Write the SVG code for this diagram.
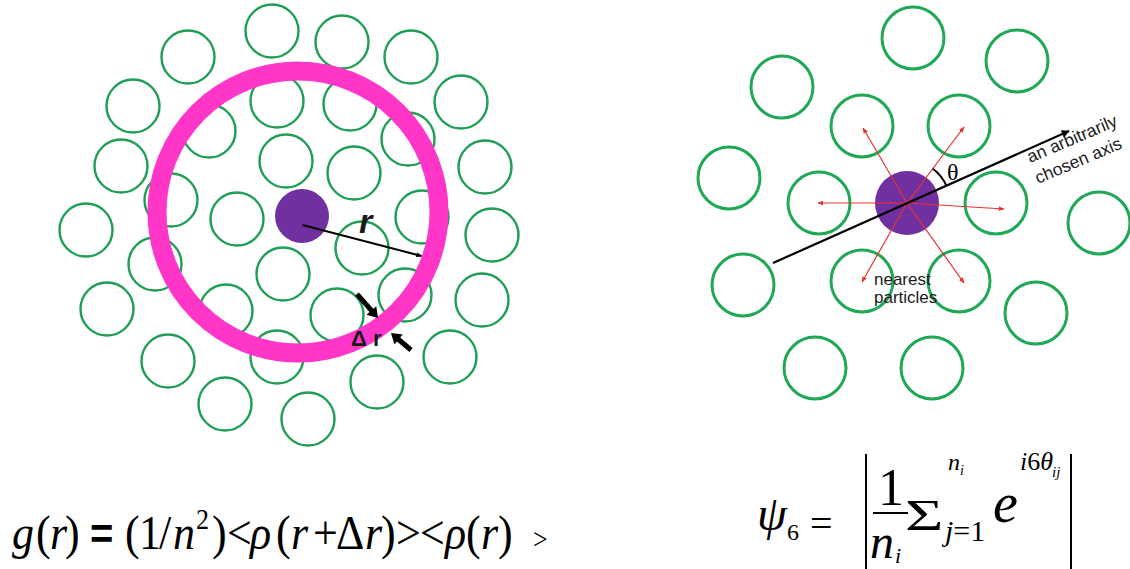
<svg xmlns="http://www.w3.org/2000/svg" width="1130" height="569" viewBox="0 0 1130 569">
<style>
.pL{fill:none;stroke:#1f9e55;stroke-width:2.4}
.pR{fill:none;stroke:#1fa855;stroke-width:3}
.ctr{fill:#7030a0}
.ring{fill:none;stroke:#ff36c8;stroke-width:19}
.red{stroke:#e8312f;stroke-width:1.2;fill:none}
.serif{font-family:"Liberation Serif","Times New Roman",serif;fill:#000}
.sans{font-family:"Liberation Sans",Arial,sans-serif;fill:#1a1a1a}
.it{font-style:italic}
</style>
<defs>
<marker id="mBlk" viewBox="0 0 10 10" refX="9" refY="5" markerWidth="6" markerHeight="6" markerUnits="userSpaceOnUse" orient="auto"><path d="M0,1 L10,5 L0,9 z" fill="#000"/></marker>
<marker id="mAx" viewBox="0 0 10 10" refX="9" refY="5" markerWidth="10" markerHeight="8" markerUnits="userSpaceOnUse" orient="auto"><path d="M0,0 L10,5 L0,10 z" fill="#000"/></marker>
<marker id="mRed" viewBox="0 0 10 10" refX="9" refY="5" markerWidth="6" markerHeight="6" markerUnits="userSpaceOnUse" orient="auto"><path d="M0,1 L10,5 L0,9 z" fill="#e8312f"/></marker>
</defs>
<rect width="1130" height="569" fill="#fff"/>

<g id="left-particles">
<circle class="pL" cx="272" cy="31" r="26.5"/>
<circle class="pL" cx="342" cy="42" r="26.5"/>
<circle class="pL" cx="411" cy="57" r="26.5"/>
<circle class="pL" cx="188" cy="57" r="26.5"/>
<circle class="pL" cx="133" cy="106" r="26.5"/>
<circle class="pL" cx="461" cy="102" r="26.5"/>
<circle class="pL" cx="209" cy="131" r="26.5"/>
<circle class="pL" cx="277" cy="101" r="26.5"/>
<circle class="pL" cx="350" cy="104" r="26.5"/>
<circle class="pL" cx="408" cy="139" r="26.5"/>
<circle class="pL" cx="121" cy="166" r="26.5"/>
<circle class="pL" cx="485" cy="167" r="26.5"/>
<circle class="pL" cx="286" cy="161" r="26.5"/>
<circle class="pL" cx="354" cy="173" r="26.5"/>
<circle class="pL" cx="171" cy="200" r="26.5"/>
<circle class="pL" cx="237" cy="219" r="26.5"/>
<circle class="pL" cx="86" cy="230" r="26.5"/>
<circle class="pL" cx="422" cy="217" r="26.5"/>
<circle class="pL" cx="492" cy="235" r="26.5"/>
<circle class="pL" cx="362" cy="248" r="26.5"/>
<circle class="pL" cx="155" cy="264" r="26.5"/>
<circle class="pL" cx="283" cy="274" r="26.5"/>
<circle class="pL" cx="107" cy="309" r="26.5"/>
<circle class="pL" cx="226" cy="311" r="26.5"/>
<circle class="pL" cx="337" cy="315" r="26.5"/>
<circle class="pL" cx="405" cy="295" r="26.5"/>
<circle class="pL" cx="482" cy="300" r="26.5"/>
<circle class="pL" cx="168" cy="361" r="26.5"/>
<circle class="pL" cx="277" cy="357" r="26.5"/>
<circle class="pL" cx="450" cy="357" r="26.5"/>
<circle class="pL" cx="377" cy="382" r="26.5"/>
<circle class="pL" cx="225" cy="404" r="26.5"/>
<circle class="pL" cx="308" cy="419" r="26.5"/>
</g>
<g id="shell">
<circle class="ring" cx="298" cy="212" r="141"/>
</g>
<g id="left-center">
<circle class="ctr" cx="302" cy="216" r="27"/>
</g>
<g id="left-annotations">
<line x1="302.5" y1="225" x2="421.5" y2="256" stroke="#000" stroke-width="2" marker-end="url(#mBlk)"/>
<text class="sans it" x="359" y="233" font-size="34" font-weight="bold" fill="#000">r</text>
<path d="M355.1,295.6 L358.9,292.4 L373.3,308.8 L376.3,306.2 L378,318 L366.5,314.8 L369.5,312.1 z" fill="#000"/>
<path d="M412.6,348.1 L400.2,337.6 L402.8,334.5 L391,333 L394.4,344.5 L397,341.4 L409.4,351.9 z" fill="#000"/>
<text class="sans" x="351" y="346" font-size="22" font-weight="bold" fill="#000">Δ r</text>
</g>

<g id="right-particles">
<circle class="pR" cx="913" cy="38" r="31"/>
<circle class="pR" cx="1017" cy="61" r="31"/>
<circle class="pR" cx="782" cy="87" r="31"/>
<circle class="pR" cx="862" cy="126" r="31"/>
<circle class="pR" cx="959" cy="126" r="31"/>
<circle class="pR" cx="729" cy="178" r="31"/>
<circle class="pR" cx="819" cy="203" r="31"/>
<circle class="pR" cx="996" cy="203" r="31"/>
<circle class="pR" cx="1099" cy="223" r="31"/>
<circle class="pR" cx="743" cy="285" r="31"/>
<circle class="pR" cx="862" cy="281" r="31"/>
<circle class="pR" cx="959" cy="281" r="31"/>
<circle class="pR" cx="1036" cy="313" r="31"/>
<circle class="pR" cx="815" cy="368" r="31"/>
<circle class="pR" cx="932" cy="368" r="31"/>
</g>
<g id="right-center">
<circle class="ctr" cx="907" cy="203" r="32"/>
</g>
<g id="connectors">
<line class="red" x1="907" y1="203" x2="863" y2="128" marker-end="url(#mRed)"/>
<line class="red" x1="907" y1="203" x2="964" y2="127" marker-end="url(#mRed)"/>
<line class="red" x1="907" y1="203" x2="818" y2="203" marker-end="url(#mRed)"/>
<line class="red" x1="907" y1="203" x2="1004" y2="209" marker-end="url(#mRed)"/>
<line class="red" x1="907" y1="203" x2="862" y2="282" marker-end="url(#mRed)"/>
<line class="red" x1="907" y1="203" x2="964" y2="283" marker-end="url(#mRed)"/>
<line x1="773" y1="263" x2="1069" y2="131" stroke="#000" stroke-width="2.2" marker-end="url(#mAx)"/>
<path d="M946.6,186.2 A43,43 0 0 0 932.9,168.7" fill="none" stroke="#000" stroke-width="2"/>
</g>
<g id="right-labels">
<text class="serif" x="947" y="180" font-size="24">θ</text>
<text class="sans" font-size="17.5" transform="translate(1030,163) rotate(-23)">an arbitrarily</text>
<text class="sans" font-size="17.5" transform="translate(1038,184) rotate(-23)">chosen axis</text>
<text class="sans" x="874" y="285" font-size="17">nearest</text>
<text class="sans" x="874" y="303" font-size="17">particles</text>
</g>

<g id="formula-g">
<text class="serif" font-size="44" transform="translate(0,549) scale(1,1.12)" y="0"><tspan x="12" class="it">g</tspan><tspan x="36">(</tspan><tspan x="50" class="it">r</tspan><tspan x="65">)</tspan><tspan x="90" font-family="Liberation Sans, Arial, sans-serif" font-weight="bold" font-size="40">=</tspan><tspan x="125">(</tspan><tspan x="139">1</tspan><tspan x="159">/</tspan><tspan x="173" class="it">n</tspan><tspan x="196" font-size="26" dy="-18">2</tspan><tspan x="212" dy="18">)</tspan><tspan x="227">&lt;</tspan><tspan x="250" class="it">ρ</tspan><tspan x="276">(</tspan><tspan x="291" class="it">r</tspan><tspan x="313">+</tspan><tspan x="336">Δ</tspan><tspan x="365" class="it">r</tspan><tspan x="381">)</tspan><tspan x="396">&gt;</tspan><tspan x="420">&lt;</tspan><tspan x="445" class="it">ρ</tspan><tspan x="466">(</tspan><tspan x="481" class="it">r</tspan><tspan x="498">)</tspan><tspan x="533" font-size="26">&gt;</tspan></text>
</g>

<g id="formula-psi">
<text class="serif it" x="757" y="530" font-size="48">ψ</text>
<text class="serif" x="787" y="540" font-size="24">6</text>
<text class="serif" x="810" y="537" font-size="40">=</text>
<line x1="866" y1="454" x2="866" y2="569" stroke="#000" stroke-width="2"/>
<line x1="1071" y1="454" x2="1071" y2="569" stroke="#000" stroke-width="2"/>
<text class="serif" x="891" y="505" font-size="52" text-anchor="middle">1</text>
<line x1="873" y1="513" x2="908" y2="513" stroke="#000" stroke-width="2"/>
<text class="serif it" x="870" y="558" font-size="48">n</text>
<text class="serif it" x="895" y="563" font-size="22">i</text>
<text class="serif" font-size="44" transform="translate(905,530) scale(1.5,1)">Σ</text>
<text class="serif it" x="948" y="470" font-size="24">n</text>
<text class="serif it" x="960" y="475" font-size="14">i</text>
<text class="serif" x="945" y="541" font-size="30"><tspan class="it">j</tspan>=1</text>
<text class="serif it" x="993" y="522" font-size="56">e</text>
<text class="serif" x="1020" y="470" font-size="26"><tspan class="it">i</tspan>6<tspan class="it">θ</tspan></text>
<text class="serif it" x="1052" y="477" font-size="15">ij</text>
</g>
</svg>
